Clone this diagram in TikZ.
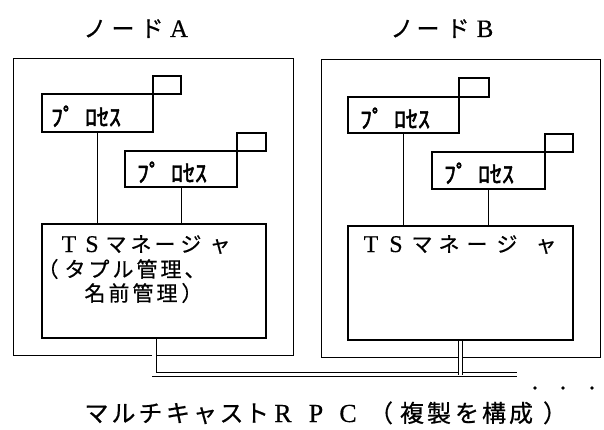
\documentclass[tikz,border=0pt]{standalone}
\usepackage{fontspec}
\setmainfont[FakeBold=0.4]{Liberation Serif}
\newfontfamily\jp[FakeBold=0.6]{Noto Sans CJK JP}
\newfontfamily\jpb[FakeBold=2]{Noto Sans CJK JP}
\tikzset{
  every node/.style={inner sep=0pt, outer sep=0pt},
  frame/.style={draw, line width=0.9pt},
  proc/.style={draw, line width=1.1pt},
  port/.style={draw, line width=1.1pt},
  tsm/.style={draw, line width=2.4pt},
  link/.style={line width=0.9pt},
  bus/.style={double, double distance=3.4pt, line width=0.8pt},
  ttl/.style={font=\jp\fontsize{23}{23}\selectfont, anchor=base},
  ttlL/.style={font=\fontsize{25}{25}\selectfont, anchor=base},
  tsj/.style={font=\jp\fontsize{21}{21}\selectfont, anchor=base},
  tsL/.style={font=\fontsize{24}{24}\selectfont, anchor=base},
  btj/.style={font=\jp\fontsize{24}{24}\selectfont, anchor=base},
  btL/.style={font=\fontsize{26}{26}\selectfont, anchor=base},
  ptxt/.style={font=\jpb\fontsize{24}{24}\selectfont, anchor=base west},
  dotmark/.style={circle, fill, minimum size=3.6pt},
}
\begin{document}
\begin{tikzpicture}[x=1pt,y=-1pt]
\useasboundingbox[fill=white] (0,0) rectangle (604,430);

% titles
\foreach \x/\c [count=\i] in {95/ノ,123/ー,152/ド} \node[ttl, name=tA\i] at (\x,37) {\c};
\node[ttlL] (tA4) at (179,37) {A};
\foreach \x/\c [count=\i] in {402/ノ,428/ー,458/ド} \node[ttl, name=tB\i] at (\x,37) {\c};
\node[ttlL] (tB4) at (485,37) {B};

% node frames
\node[frame, minimum width=280pt, minimum height=297pt, anchor=north west] (na) at (13,58) {};
\node[frame, minimum width=279pt, minimum height=298pt, anchor=north west] (nb) at (321,59) {};

% processes A
\node[proc, minimum width=111pt, minimum height=38pt, anchor=north west] (pa1) at (42,94) {};
\node[port, minimum width=28pt, minimum height=18pt, anchor=south west] (pa1p) at (pa1.north east) {};
\node[proc, minimum width=112pt, minimum height=36pt, anchor=north west] (pa2) at (125,151) {};
\node[port, minimum width=29pt, minimum height=18pt, anchor=south west] (pa2p) at (pa2.north east) {};
\node[ptxt] (pa1t) at (51,126) {ﾌﾟ\hspace{10pt}ﾛｾｽ};
\node[ptxt] (pa2t) at (137,182) {ﾌﾟ\hspace{10pt}ﾛｾｽ};

% processes B
\node[proc, minimum width=111pt, minimum height=36pt, anchor=north west] (pb1) at (348,97) {};
\node[port, minimum width=30pt, minimum height=19pt, anchor=south west] (pb1p) at (pb1.north east) {};
\node[proc, minimum width=113pt, minimum height=37pt, anchor=north west] (pb2) at (432,152) {};
\node[port, minimum width=28pt, minimum height=18pt, anchor=south west] (pb2p) at (pb2.north east) {};
\node[ptxt] (pb1t) at (360,128) {ﾌﾟ\hspace{10pt}ﾛｾｽ};
\node[ptxt] (pb2t) at (444,183) {ﾌﾟ\hspace{10pt}ﾛｾｽ};

% TS managers
\node[tsm, minimum width=224pt, minimum height=114pt, anchor=north west] (tsa) at (42,224) {};
\node[tsm, minimum width=225pt, minimum height=114pt, anchor=north west] (tsb) at (348,226) {};

% TS text A
\node[tsL] (sa1) at (69,252) {T};
\node[tsL] (sa2) at (92,252) {S};
\foreach \x/\c [count=\i] in {116/マ,141/ネ,165/ー,191/ジ,220/ャ} \node[tsj, name=sa3\i] at (\x,252) {\c};
\foreach \x/\c [count=\i] in {48/（,75/タ,99/プ,123/ル,147/管,171/理,195/、} \node[tsj, name=sb\i] at (\x,277) {\c};
\foreach \x/\c [count=\i] in {95/名,119/前,143/管,167/理,192/）} \node[tsj, name=sc\i] at (\x,301) {\c};

% TS text B
\node[tsL] (sd1) at (371,252) {T};
\node[tsL] (sd2) at (396,252) {S};
\foreach \x/\c [count=\i] in {422/マ,449/ネ,477/ー,507/ジ,546/ャ} \node[tsj, name=sd3\i] at (\x,252) {\c};

% connectors process -> TS
\draw[link] (pa1.south) -- (pa1.south |- tsa.north);
\draw[link] (pa2.south) -- (pa2.south |- tsa.north);
\draw[link] (pb1.south) -- (pb1.south |- tsb.north);
\draw[link] (pb2.south) -- (pb2.south |- tsb.north);

% multicast bus
\coordinate (busend) at (517,374.5);
\draw[bus] ([yshift=-1.2pt]tsa.south) |- (busend);
\draw[bus] ([yshift=-1.2pt]tsb.south) -- (tsb.south |- busend);

% dots
\node[dotmark] (d1) at (535,388) {};
\node[dotmark] (d2) at (563,388) {};
\node[dotmark] (d3) at (592,388) {};

% bottom caption
\foreach \x/\c [count=\i] in {96.5/マ,123.5/ル,150.5/チ,178/キ,205/ャ,231.5/ス,257/ト} \node[btj, name=ba\i] at (\x,422) {\c};
\node[btL] (bR) at (283,422) {R};
\node[btL] (bP) at (316,422) {P};
\node[btL] (bC) at (348,422) {C};
\foreach \x/\c [count=\i] in {381/（,412/複,439/製,467/を,494/構,521/成,555/）} \node[btj, name=bb\i] at (\x,422) {\c};
\end{tikzpicture}
\end{document}
